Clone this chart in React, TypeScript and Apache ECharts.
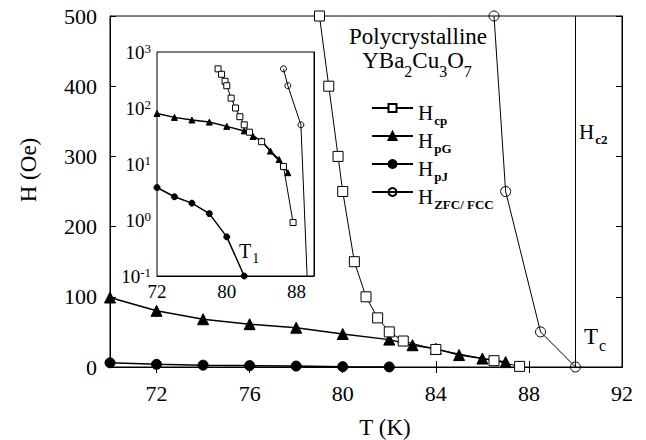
import React, { useEffect, useRef } from "react";
import * as echarts from "echarts";

// ---- data (T in K, H in Oe) ----
const T_HCP = [79.0, 79.4, 79.8, 80.0, 80.5, 81.0, 81.5, 82.0, 82.6, 84.0, 86.5, 87.6];
const H_HCP = [500, 400, 300, 250, 150, 100, 70, 50, 37, 25, 9, 0.9];
const T_HPG = [70, 72, 74, 76, 78, 80, 82, 83, 84, 85, 86, 87];
const H_HPG = [99, 80, 68, 61, 56, 47, 39, 31, 26, 17, 12, 7];
const T_HPJ = [70, 72, 74, 76, 78, 80, 82];
const H_HPJ = [6, 3.8, 2.6, 2.0, 1.3, 0.5, 0.1];
const T_ZFC = [86.5, 87.0, 88.5, 90.0];
const H_ZFC = [500, 250, 50, 0];
const TC = 90.0;

const MAIN_X_TICKS = [72, 76, 80, 84, 88, 92];
const MAIN_X_TOP_TICKS = [72, 76, 80, 84, 88];
const INSET_X_TICKS = [72, 80, 88];

const SERIES_NAMES = ["Hcp", "HpG", "HpJ", "HZFC/FCC"];
const LEGEND_SUBS: Record<string, string> = { Hcp: "cp", HpG: "pG", HpJ: "pJ", "HZFC/FCC": "ZFC/ FCC" };

const FONT = '"Liberation Serif", "Times New Roman", serif';

function pairs(t: number[], h: number[], logSafe = false) {
  return t.map((x, i) => [x, logSafe && h[i] <= 0 ? 1e-4 : h[i]]);
}

export default function App() {
  const ref = useRef<HTMLDivElement>(null);
  useEffect(() => {
    if (!ref.current) return;
    const chart = echarts.init(ref.current, null, { renderer: "svg" });

    const axisCommon = {
      axisLine: { show: true, lineStyle: { color: "#000", width: 1 } },
      splitLine: { show: false },
    };

    const styles = [
      { symbol: "rect", color: "#fff", lw: 1 },
      { symbol: "triangle", color: "#000", lw: 1.5 },
      { symbol: "circle", color: "#000", lw: 1.5 },
      { symbol: "circle", color: "rgba(0,0,0,0)", lw: 1 },
    ];
    const dataSets = [
      [T_HCP, H_HCP],
      [T_HPG, H_HPG],
      [T_HPJ, H_HPJ],
      [T_ZFC, H_ZFC],
    ];
    const zOrder = [5, 3, 3, 4];

    const mainSeries = dataSets.map((d, i) => ({
      name: SERIES_NAMES[i],
      type: "line",
      xAxisIndex: 0,
      yAxisIndex: 0,
      data: pairs(d[0], d[1]),
      symbol: styles[i].symbol,
      symbolSize: i === 1 ? 11 : 10,
      showAllSymbol: true,
      z: zOrder[i],
      itemStyle: { color: styles[i].color, borderColor: "#000", borderWidth: 1 },
      lineStyle: { color: "#000", width: styles[i].lw },
      clip: true,
      ...(i === 3
        ? {
            markLine: {
              silent: true,
              symbol: "none",
              label: { show: false },
              lineStyle: { color: "#000", width: 1, type: "solid" },
              data: [{ xAxis: TC }],
            },
          }
        : {}),
    }));

    const insetSeries = dataSets.map((d, i) => ({
      name: SERIES_NAMES[i],
      type: "line",
      xAxisIndex: 2,
      yAxisIndex: 2,
      data: pairs(d[0], d[1], true),
      symbol: styles[i].symbol,
      symbolSize: 6,
      showAllSymbol: true,
      z: zOrder[i],
      itemStyle: { color: styles[i].color, borderColor: "#000", borderWidth: 1 },
      lineStyle: { color: "#000", width: styles[i].lw },
      clip: true,
    }));

    const subRich = {
      h: { fontSize: 21, fontFamily: FONT, color: "#000", lineHeight: 22, padding: [5, 0, 5, 0], verticalAlign: "top" },
      s: { fontSize: 13, fontFamily: FONT, fontWeight: "bold", color: "#000", lineHeight: 14, padding: [17, 0, 0, 1], verticalAlign: "top" },
    };

    const option: any = {
      animation: false,
      backgroundColor: "#fff",
      grid: [
        { left: 110, top: 16, width: 512, height: 351, show: true, borderColor: "#000", borderWidth: 1, containLabel: false },
        { left: 157, top: 52, width: 157, height: 224, show: true, backgroundColor: "#fff", borderColor: "#000", borderWidth: 1, z: 2, containLabel: false },
      ],
      xAxis: [
        {
          ...axisCommon,
          gridIndex: 0,
          type: "value",
          min: 70,
          max: 92,
          position: "bottom",
          axisTick: { show: true, inside: true, length: 6, customValues: MAIN_X_TICKS, lineStyle: { color: "#000" } },
          axisLabel: { customValues: MAIN_X_TICKS, fontSize: 22, fontFamily: FONT, color: "#000", margin: 15 },
        },
        {
          ...axisCommon,
          gridIndex: 0,
          type: "value",
          min: 70,
          max: 92,
          position: "top",
          axisTick: { show: true, inside: true, length: 6, customValues: MAIN_X_TOP_TICKS, lineStyle: { color: "#000" } },
          axisLabel: { show: false },
        },
        {
          ...axisCommon,
          gridIndex: 1,
          type: "value",
          min: 72,
          max: 90,
          position: "bottom",
          axisTick: { show: true, inside: true, length: 5, customValues: INSET_X_TICKS, lineStyle: { color: "#000" } },
          axisLabel: { customValues: INSET_X_TICKS, fontSize: 19, fontFamily: FONT, color: "#000", margin: 6 },
        },
      ],
      yAxis: [
        {
          ...axisCommon,
          gridIndex: 0,
          type: "value",
          min: 0,
          max: 500,
          interval: 100,
          position: "left",
          axisTick: { show: true, inside: true, length: 6, lineStyle: { color: "#000" } },
          axisLabel: { fontSize: 22, fontFamily: FONT, color: "#000", margin: 13 },
        },
        {
          ...axisCommon,
          gridIndex: 0,
          type: "value",
          min: 0,
          max: 500,
          interval: 100,
          position: "right",
          axisTick: { show: true, inside: true, length: 6, lineStyle: { color: "#000" } },
          axisLabel: { show: false },
        },
        {
          ...axisCommon,
          gridIndex: 1,
          type: "log",
          logBase: 10,
          min: 0.1,
          max: 1000,
          position: "left",
          axisTick: { show: true, inside: true, length: 5, lineStyle: { color: "#000" } },
          minorTick: { show: false },
          axisLabel: {
            margin: 6,
            formatter: (v: number) => `{b|10}{s|${Math.round(Math.log10(v))}}`,
            rich: {
              b: { fontSize: 19, fontFamily: FONT, color: "#000", lineHeight: 20 },
              s: { fontSize: 13, fontFamily: FONT, color: "#000", lineHeight: 12, verticalAlign: "top" },
            },
          },
        },
        {
          ...axisCommon,
          gridIndex: 1,
          type: "log",
          logBase: 10,
          min: 0.1,
          max: 1000,
          position: "right",
          axisTick: { show: true, inside: true, length: 5, lineStyle: { color: "#000" } },
          axisLabel: { show: false },
        },
      ],
      legend: {
        show: true,
        data: SERIES_NAMES,
        orient: "vertical",
        left: 366,
        top: 92,
        itemWidth: 41,
        itemHeight: 10,
        itemGap: -3,
        selectedMode: false,
        formatter: (name: string) => `{h|H}{s|${LEGEND_SUBS[name]}}`,
        textStyle: { rich: subRich },
      },
      graphic: [
        {
          type: "text",
          x: 418,
          y: 36,
          z: 100,
          style: { text: "Polycrystalline", fontSize: 23, fontFamily: FONT, fill: "#000", textAlign: "center", textVerticalAlign: "middle" },
        },
        {
          type: "text",
          x: 417,
          y: 49,
          z: 100,
          style: {
            text: "{a|YBa}{s|2}{a|Cu}{s|3}{a|O}{s|7}",
            textAlign: "center",
            textVerticalAlign: "top",
            rich: {
              a: { fontSize: 23, fontFamily: FONT, fill: "#000", lineHeight: 24, padding: [0, 0, 6, 0], verticalAlign: "top" },
              s: { fontSize: 16, fontFamily: FONT, fill: "#000", lineHeight: 16, padding: [14, 0, 0, 0], verticalAlign: "top" },
            },
          },
        },
        {
          type: "text",
          x: 579,
          y: 116,
          z: 100,
          style: {
            text: "{h|H}{s|c2}",
            textAlign: "left",
            textVerticalAlign: "top",
            rich: subRich,
          },
        },
        {
          type: "text",
          x: 584,
          y: 320,
          z: 100,
          style: {
            text: "{h|T}{s|c}",
            textAlign: "left",
            textVerticalAlign: "top",
            rich: {
              h: { fontSize: 23, fontFamily: FONT, fill: "#000", lineHeight: 22, padding: [5, 0, 5, 0], verticalAlign: "top" },
              s: { fontSize: 16, fontFamily: FONT, fill: "#000", lineHeight: 15, padding: [17, 0, 0, 1], verticalAlign: "top" },
            },
          },
        },
        {
          type: "text",
          x: 239,
          y: 236,
          z: 100,
          style: {
            text: "{h|T}{s|1}",
            textAlign: "left",
            textVerticalAlign: "top",
            rich: {
              h: { fontSize: 20, fontFamily: FONT, fill: "#000", lineHeight: 20, padding: [5, 0, 5, 0], verticalAlign: "top" },
              s: { fontSize: 14, fontFamily: FONT, fill: "#000", lineHeight: 13, padding: [15, 0, 0, 1], verticalAlign: "top" },
            },
          },
        },
        {
          type: "text",
          x: 385,
          y: 427,
          z: 100,
          style: { text: "T (K)", fontSize: 23, fontFamily: FONT, fill: "#000", textAlign: "center", textVerticalAlign: "middle" },
        },
        {
          type: "text",
          x: 28,
          y: 170,
          rotation: Math.PI / 2,
          z: 100,
          style: { text: "H (Oe)", fontSize: 23, fontFamily: FONT, fill: "#000", textAlign: "center", textVerticalAlign: "middle" },
        },
      ],
      series: [...mainSeries, ...insetSeries],
    };

    chart.setOption(option);
    return () => chart.dispose();
  }, []);

  return (
    <div
      ref={ref}
      style={{ position: "fixed", left: 0, top: 0, width: 646, height: 440, background: "#fff" }}
    />
  );
}
